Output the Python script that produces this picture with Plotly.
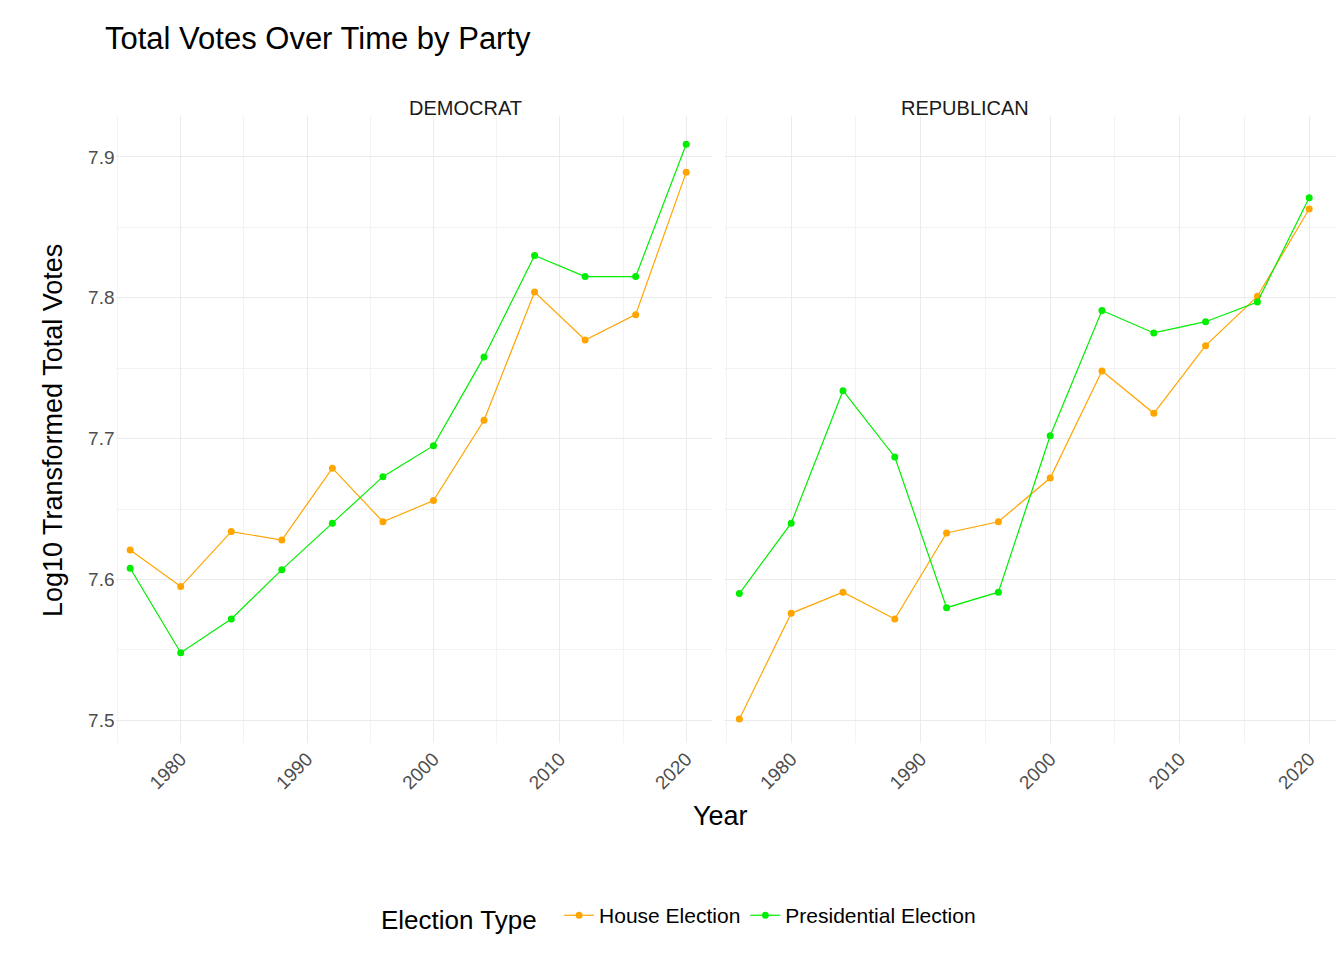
import plotly.graph_objects as go

anos = [1976, 1980, 1984, 1988, 1992, 1996, 2000, 2004, 2008, 2012, 2016, 2020]

dem_house = [7.621, 7.595, 7.634, 7.628, 7.679, 7.641, 7.656, 7.713, 7.804, 7.770, 7.788, 7.889]
dem_pres = [7.608, 7.548, 7.572, 7.607, 7.640, 7.673, 7.695, 7.758, 7.830, 7.815, 7.815, 7.909]
rep_house = [7.501, 7.576, 7.591, 7.572, 7.633, 7.641, 7.672, 7.748, 7.718, 7.766, 7.801, 7.863]
rep_pres = [7.590, 7.640, 7.734, 7.687, 7.580, 7.591, 7.702, 7.791, 7.775, 7.783, 7.797, 7.871]

laranja = "#FFA500"
verde = "#00EE00"

fig = go.Figure()

def linha(y, cor, nome, xa, ya, legenda):
    fig.add_trace(go.Scatter(
        x=anos, y=y, mode="lines+markers", name=nome,
        line=dict(color=cor, width=1.2), marker=dict(color=cor, size=7),
        xaxis=xa, yaxis=ya, showlegend=legenda, legendgroup=nome
    ))

linha(dem_house, laranja, "House Election", "x", "y", True)
linha(dem_pres, verde, "Presidential Election", "x", "y", True)
linha(rep_house, laranja, "House Election", "x2", "y2", False)
linha(rep_pres, verde, "Presidential Election", "x2", "y2", False)

eixo_x = dict(
    range=[1974.84, 2022.06], tickvals=[1980, 1990, 2000, 2010, 2020], tickangle=-45,
    showgrid=True, gridcolor="#EBEBEB", gridwidth=1.3, zeroline=False, automargin=False,
    minor=dict(tickvals=[1975, 1985, 1995, 2005, 2015], showgrid=True, gridcolor="#F3F3F3"),
    tickfont=dict(size=19, color="#4D4D4D"), ticks="",
)
eixo_y = dict(
    range=[7.4837, 7.929], tickvals=[7.5, 7.6, 7.7, 7.8, 7.9], tickformat=".1f",
    showgrid=True, gridcolor="#EBEBEB", gridwidth=1.3, zeroline=False, automargin=False,
    minor=dict(tickvals=[7.55, 7.65, 7.75, 7.85], showgrid=True, gridcolor="#F3F3F3"),
    tickfont=dict(size=19, color="#4D4D4D"), ticks="",
)

fig.update_layout(
    width=1344, height=960,
    margin=dict(l=0, r=0, t=0, b=0, autoexpand=False),
    plot_bgcolor="white", paper_bgcolor="white",
    font=dict(family="Arial, Liberation Sans", color="black"),
    xaxis=dict(eixo_x, domain=[0.080, 0.524], anchor="y"),
    yaxis=dict(eixo_y, domain=[0.234, 0.8875], anchor="x"),
    xaxis2=dict(eixo_x, domain=[0.533, 0.988], anchor="y2"),
    yaxis2=dict(eixo_y, domain=[0.234, 0.8875], anchor="x2", showticklabels=False),
    legend=dict(
        orientation="h", x=0.5, xanchor="center", y=0.053, yanchor="middle",
        title=dict(text="Election Type  ", font=dict(size=26)), font=dict(size=21),
    ),
    annotations=[
        dict(text="Total Votes Over Time by Party", x=95/1344, y=1-30/960, xref="paper", yref="paper",
             xanchor="left", yanchor="middle", showarrow=False, font=dict(size=31)),
        dict(text="DEMOCRAT", x=0.297, y=1-87/960, xref="paper", yref="paper",
             showarrow=False, font=dict(size=20, color="#1A1A1A")),
        dict(text="REPUBLICAN", x=0.7615, y=1-87/960, xref="paper", yref="paper",
             showarrow=False, font=dict(size=20, color="#1A1A1A")),
        dict(text="Year", x=0.53, y=1-825/960, xref="paper", yref="paper",
             showarrow=False, font=dict(size=27)),
        dict(text="Log10 Transformed Total Votes", x=28/1344, y=1-423/960, xref="paper", yref="paper",
             showarrow=False, textangle=-90, font=dict(size=27)),
    ],
)

fig.write_html("out.html")
